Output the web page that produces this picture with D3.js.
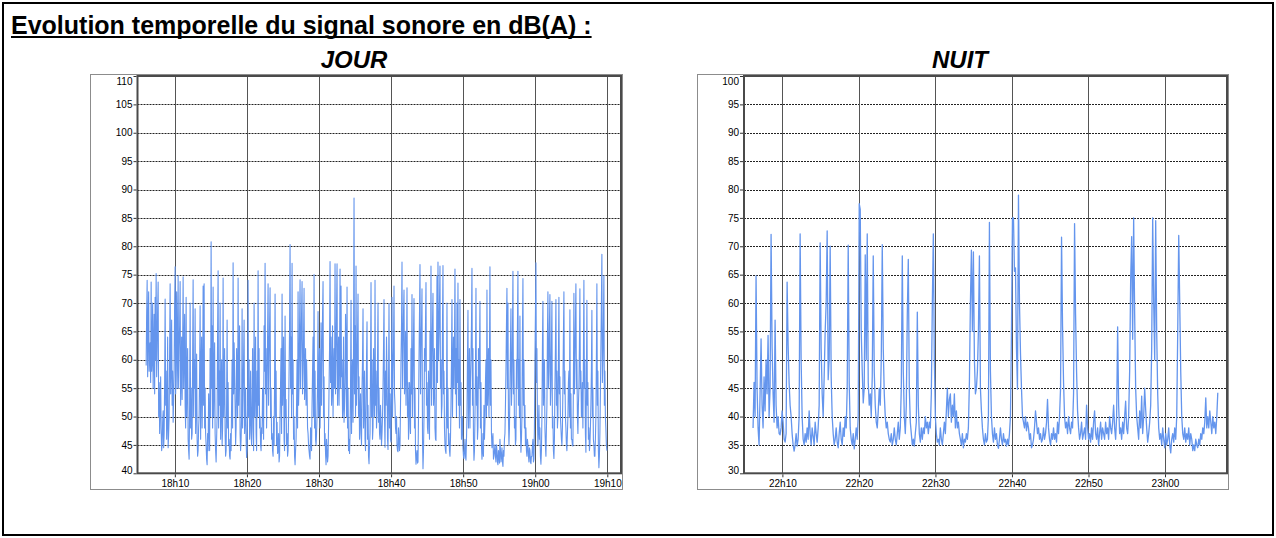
<!DOCTYPE html>
<html><head><meta charset="utf-8">
<script src="https://cdn.jsdelivr.net/npm/d3@7"></script>
<style>
html,body{margin:0;padding:0;background:#fff;}
svg{display:block;}
text{font-family:"Liberation Sans",Arial,sans-serif;}
</style></head>
<body>
<svg id="c" width="1276" height="538"></svg>
<script>
// ---------- DATA ----------
const titleText = "Evolution temporelle du signal sonore en dB(A) :";
const panelTitles = ["JOUR", "NUIT"];

// JOUR : sampling start and interval (seconds)
const jourStart = "18:06:01";
const jourStep = 4.16;
const jourDomain = ["18:04:49", "19:11:54"];
const jourYDomain = [40, 110];
const jourYTicks = [40,45,50,55,60,65,70,75,80,85,90,95,100,105,110];
const jourXTicks = ["18:10","18:20","18:30","18:40","18:50","19:00","19:10"];
const jourValues = [
59,68,74,57,66,72,58,61,63,56,73.7,58,60,70,55,62,68,54,71,60,75.2,57,62,69,73.7,50,56,47,52,57,48,44,45,49,51,44.5,47,56,70.7,52,
58,46,49,64,44.5,47,50,62,73.4,54,60,67,52,58,49,53,58,70,76.4,54,65,72,55,60,74.8,55,62,66,73.8,52,57,64,53,62,74.6,55,61,68,52,48,
71,50,56,62,46,44,42.5,52,70,48,55,46,47,60,74.1,50,60,55,69,47,52,61,46,43,44,48,50,58,69.5,46,58,64,48,55,73,52,73.4,48,55,47,
45,42.5,41.5,47,44,54,48,44,62,50,80.8,55,66,48,72.8,50,56,63,47,44,42,46,50,65,75.7,48,58,52,70,46,52,60,45,48,74.4,50,55,62,47,43,
44,52,67,48,56,45,46,43,42.5,47,44,52,60,48,77.1,54,63,58,52,45,48,62,56,50,74.4,52,60,66,47,44,45.9,50,69,48,54,60,67,47,50,55,
46,42.8,44,52,74,50,60,46,50,58,47,45,53,62,48,44,70,50,56,64,47,44,58,50,75.7,52,62,48,50,45,44,48,47,55,53,46,66,58,77,54,
62,48,55,64,73.4,52,60,66,72.7,50,55,46,47,44,43,50,45,56,71.6,50,58,45,49,43.5,44,47,42,43,50,56,62,47,71.6,52,57,64,46,44,67.7,50,
53,45,47,43,44,50,58,66,80.3,55,64,50,77,54,60,46,50,43,41.5,44,46,52,60,48,72,52,56,66,74.1,55,62,68,73.8,54,58,64,72.6,53,56,62,
52,60,55,48,47,45,44,43,42.5,48,46,44,52,58,64,50,75,48,58,46,45,47,50,56,68.5,50,56,62,48,54,66.5,52,60,68,73.8,50,57,45,47,43.5,
41.5,46,44,42,43,48,55,62,77.3,56,64,52,55,66,50,58,62,55,76.9,54,60,68,76.9,52,58,64,52,60,76,55,73,57,60,50,52,64,49,52,56,68,
62,50,72.8,48,55,44,46,43.5,47,55,70.5,47,56,60,49,62,88.5,54,66,50,76.5,52,58,64,71.6,50,57,46,50,54,47,45,55,60,69,48,52,58,46,44,
52,60,66.7,46,52,43,41.7,45,47,58,73.6,50,60,46,48,62,55,50,74,52,58,48,51,60,70,49,55,47,46,52,49,45,47,50,55,62,70.6,50,44.6,58,
52,64,58,46,44.2,55,69.9,48,54,46,45.5,58,71,50,58,62,73,54,52,48,47,50,45,44,43.8,48,46,44,45,52,60,66,77.2,55,62,68,72.3,54,57,65,
52,60,72.7,50,56,46,48,56,53,47,62,54,71.5,50,57,64,70.8,48,55,44,41.6,43,44,41.8,42,50,60,68,76.8,54,62,66,72.5,46,40.8,44,50,62,58,66,
73.6,52,56,48,47,58,52,46,65,55,76.5,52,60,66,71.7,52,55,62,48,46,45.8,60,74.7,56,77.2,60,64,70,76.5,55,60,50,52,66,76.6,54,58,48,45,44,
43.5,52,70,48,55,45,47,44,43,46,52,60,70.6,50,58,64,55,62,76,54,62,50,70,56,73.5,52,60,48,70.6,52,56,46,48,50,44.5,43,42.6,44,46,43,
42.3,46,50,60,68.7,48,55,62,48,56,60,66,76.1,52,62,46,42.3,44,50,58,72.6,52,57,46,48,62,55,60,70.3,48,56,45,42.5,44,47,43,52,46,49,56,
60,50,72.3,52,56,62,50,60,76.4,52,60,47,44.5,46,47,42.5,43,44,45,43,42,45,44,42,41.5,44,43,41.8,46,44,42,43,44.5,42,41.2,44,43,46,47,52,
58,66,72.6,55,70,50,45,48,55,62,69,52,56,64,75.6,54,60,48,50,45,46,60,55,66,75.6,52,60,50,67.7,48,43.7,46,50,64,74.3,52,60,48,52,45,
48,44,43,46,45,43,42,44.5,44,42,41.7,43,43,45,46,42,42.5,48,60,68,77.1,56,62,50,45,48,52,46,48,43,41.6,44,50,62,70.3,52,56,60,48,45,
43,48,52,64,72,55,58,66,71.5,52,55,62,70.3,48,50,44,42.6,46,55,62,70.6,52,58,48,50,60,71,54,57,50,48,46,45,48,55,64,72,54,58,50,
48,45,44,47,50,56,58,50,68.8,48,54,46,46,45,44.8,56,71.7,54,60,66,73.4,55,60,50,47,52,55,62,72.5,55,58,50,50,56,48,60,74,55,60,47,
43.7,55,70.5,52,56,46,48,44,45,48,52,58,68.7,50,55,46,45,43,43,46,50,60,73.4,52,58,44,41,43,47,54,62,70,78.6,56,60,66,74.8,52,58,50,
47.8,45,44
];

// NUIT
const nuitStart = "22:06:10";
const nuitStep = 7.853;
const nuitDomain = ["22:04:59", "23:08:06"];
const nuitYDomain = [30, 100];
const nuitYTicks = [30,35,40,45,50,55,60,65,70,75,80,85,90,95,100];
const nuitXTicks = ["22:10","22:20","22:30","22:40","22:50","23:00"];
const nuitValues = [
38,46,40,64.8,45,38,35,44,53.7,42,38,47,41,50,44,54.3,40,45,72.1,52.4,
44,39,57,42,38,40,37,36.8,38,41,39,36,35.5,37,63.7,52.7,46,42,40,37,
35,33.9,35,37,34.8,36,40,72.2,50,40,36,35,37,35.5,38,36,41,37,35,38,
36.5,35,39,37,35.5,38,42,70.6,52,44,40,47,55,60,72.7,46.5,50,70,47,40,
37,35,36,38,35.5,34.5,37,39,36,35,38,36.5,40,38,45,70.2,46,38,36,35,
37,34.3,36,38,36,40,77.5,76.5,55,48,42.4,45,68.5,50,72.2,46,42,44,40,47,
68.3,48,42,39,38,41,45,42,50,70.3,52,44,40,38,39,37,36,35.5,37,35,
36,38,36,35,37,39,36,38,45,68.3,48,40,37,42,58,67.7,45,39,37,35,
36,34.8,37,39,58.4,42,37,35.5,38,36,38,37,40,38,39,37,39,38,44,60,
72.2,50,40,37,35.5,36,35,38,36,35,37,39,37,41,45,40,43,44,39,42,
40,44,38,41,38,39,37,36,35,37,34.5,36,35.5,37,36,38,46,60,69.3,55,
69,50,44,45,48,55,68.3,45,41,38,36,35,37,35.5,36,40,74.2,48,40,37,
35.5,38,36,37,35,34.4,36,38,36,35,37,35.5,36,34.8,36,35,37,40,55,75,
75,65.6,66.2,52,44.8,79,60,51.2,45,40,39,38,40,37.5,39,38,36,37,34.5,35,
36,38,41,39,37,38,36,37,35.5,36,38,36,37,39,43,38,36,35,37,36,
38,36,37,35.5,39,37,40,45,71.6,56,46,40,38,39,37,40,38,37,39,38,
44,74,58,48,41,38,36,37,39,36,37,38,36,42,38,36,37,35.5,38,36,
39,41,37,36,38,35,37,39,36,38,37,36,39,37,38,36,40,38,37,39,
42,38,36,40,55.8,42,37,38,36,39,37,40,42.7,38,37,40,48,64,71.7,53.6,
75,58,45,40,38,36,41,38,43.6,37,40,45,41.2,38,35.5,37,39,42,52,75,
60,50,74.5,55,44,38,36,37,35,38,36,34.5,37,35,36,38,35,33.6,36,37,
35.5,38,36,40,55,71.9,60,48,40,37,36,38,35.5,37,36,38,35,37,36,34,
35,34,36,35,34.5,36,35,37,36,38,37,39,43.3,38,40,38,41,39,37,40,
38,39,37,40,44.2
];

// ---------- DRAW ----------
const svg = d3.select("#c");
const parseT = s => { const p = s.split(":").map(Number); return new Date(2000,0,1,p[0],p[1],p[2]||0); };
const fmt = d3.timeFormat("%Hh%M");

// outer frame
svg.append("rect").attr("x",3).attr("y",3).attr("width",1270).attr("height",532)
  .attr("fill","none").attr("stroke","#000").attr("stroke-width",2);

// title
const tt = svg.append("text").attr("x",11).attr("y",34).attr("font-size",25).attr("font-weight","bold")
  .text(titleText);
const tw = tt.node().getComputedTextLength();
svg.append("line").attr("x1",11).attr("x2",11+tw).attr("y1",37).attr("y2",37)
  .attr("stroke","#000").attr("stroke-width",2);

function panel(cfg){
  const g = svg.append("g");
  const x = d3.scaleTime().domain(cfg.domain.map(parseT)).range([cfg.left, cfg.right]);
  const y = d3.scaleLinear().domain(cfg.yDomain).range([cfg.bottom, cfg.top]);

  // chart area box
  g.append("rect").attr("x",cfg.boxLeft+0.5).attr("y",cfg.top-1.5)
    .attr("width",cfg.right-cfg.boxLeft+1).attr("height",cfg.boxBottom-cfg.top+1.5)
    .attr("fill","#fff").attr("stroke","#8c8c8c").attr("stroke-width",1);

  // horizontal grid
  g.append("g").selectAll("line").data(cfg.yTicks.slice(1,-1)).join("line")
    .attr("x1",cfg.left).attr("x2",cfg.right)
    .attr("y1",d=>Math.round(y(d))+0.5).attr("y2",d=>Math.round(y(d))+0.5)
    .attr("stroke","#222").attr("stroke-width",1).attr("stroke-dasharray","2,1");
  // vertical grid
  g.append("g").selectAll("line").data(cfg.xTicks.map(t=>parseT(t+":00"))).join("line")
    .attr("x1",d=>Math.round(x(d))+0.5).attr("x2",d=>Math.round(x(d))+0.5)
    .attr("y1",cfg.top).attr("y2",cfg.bottom)
    .attr("stroke","#555").attr("stroke-width",1);

  // series
  const t0 = parseT(cfg.start).getTime();
  const line = d3.line()
    .x((d,i)=>x(new Date(t0 + i*cfg.step*1000)))
    .y(d=>y(d));
  g.append("path").datum(cfg.values).attr("d",line)
    .attr("fill","none").attr("stroke","#6495ed").attr("stroke-width",cfg.lw)
    .attr("stroke-linejoin","round");

  // plot frame
  g.append("rect").attr("x",cfg.left).attr("y",cfg.top)
    .attr("width",cfg.right-cfg.left).attr("height",cfg.bottom-cfg.top)
    .attr("fill","none").attr("stroke","#4a4a4a").attr("stroke-width",2);

  // y axis
  const ya = d3.axisLeft(y).tickValues(cfg.yTicks).tickSize(3).tickPadding(1).tickFormat(d3.format("d"));
  const yg = g.append("g").attr("transform",`translate(${cfg.left-1},0)`).call(ya);
  yg.select(".domain").remove();
  yg.selectAll("text").attr("font-size",10).attr("font-family","Liberation Sans, Arial, sans-serif").attr("fill","#000")
    .attr("dy",(d,i)=> i===0 ? "0.05em" : (i===cfg.yTicks.length-1 ? "0.85em" : "0.32em"));
  yg.selectAll("line").attr("stroke","#333");

  // x axis
  const xa = d3.axisBottom(x).tickValues(cfg.xTicks.map(t=>parseT(t+":00"))).tickSize(3).tickPadding(3).tickFormat(fmt);
  const xg = g.append("g").attr("transform",`translate(0,${cfg.bottom+1})`).call(xa);
  xg.select(".domain").remove();
  xg.selectAll("text").attr("font-size",10).attr("font-family","Liberation Sans, Arial, sans-serif").attr("fill","#000");
  xg.selectAll("line").attr("stroke","#333");

  // panel title
  svg.append("text").attr("x",cfg.titleX).attr("y",68).attr("text-anchor","middle")
    .attr("font-size",24).attr("font-weight","bold").attr("font-style","italic").text(cfg.title);
}

panel({title:panelTitles[0], titleX:354, domain:jourDomain, yDomain:jourYDomain, yTicks:jourYTicks,
  xTicks:jourXTicks, start:jourStart, step:jourStep, values:jourValues, lw:1.1,
  left:137.5, right:621, top:76, bottom:473.3, boxLeft:90, boxBottom:489.5});
panel({title:panelTitles[1], titleX:960, domain:nuitDomain, yDomain:nuitYDomain, yTicks:nuitYTicks,
  xTicks:nuitXTicks, start:nuitStart, step:nuitStep, values:nuitValues, lw:1.3,
  left:744, right:1227, top:76, bottom:473.3, boxLeft:697, boxBottom:489.5});
</script>
</body></html>
